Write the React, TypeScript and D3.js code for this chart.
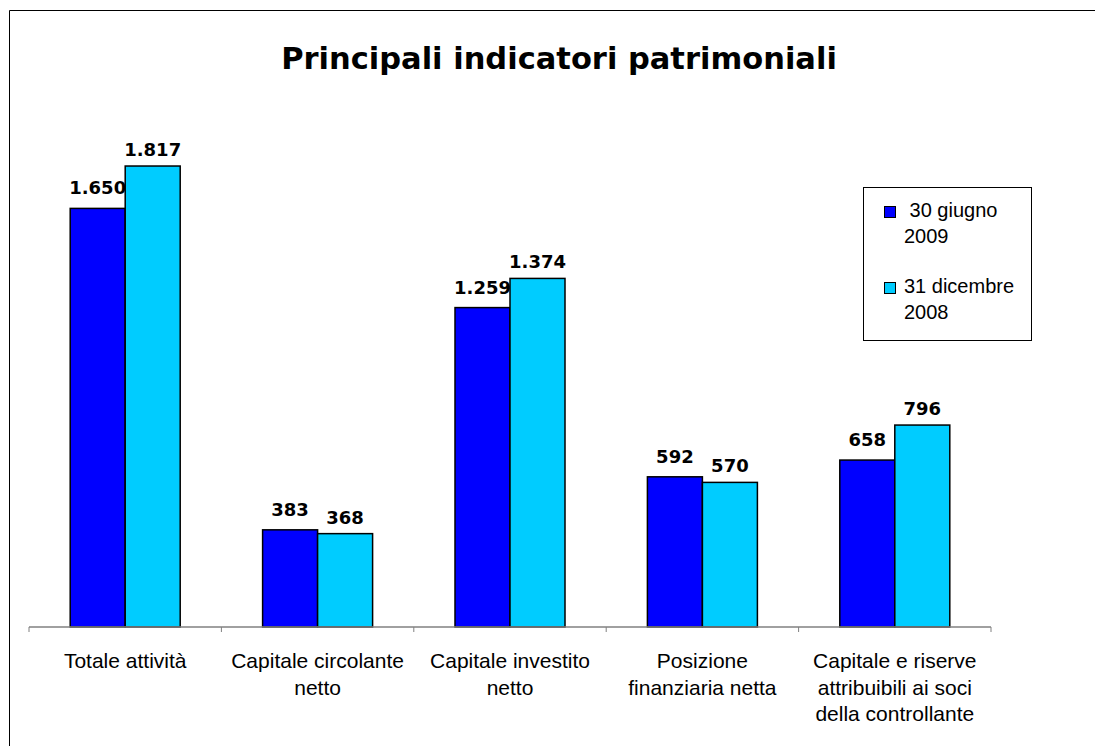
import * as d3 from "d3";

const categories = [
  ["Totale attività"],
  ["Capitale circolante", "netto"],
  ["Capitale investito", "netto"],
  ["Posizione", "finanziaria netta"],
  ["Capitale e riserve", "attribuibili ai soci", "della controllante"],
];
const seriesNames = ["30 giugno 2009", "31 dicembre 2008"];
const giugno2009 = [1650, 383, 1259, 592, 658];
const dicembre2008 = [1817, 368, 1374, 570, 796];
const valueLabels = [
  ["1.650", "383", "1.259", "592", "658"],
  ["1.817", "368", "1.374", "570", "796"],
];
const legendLines = [
  [" 30 giugno", "2009"],
  ["31 dicembre", "2008"],
];

const colors = ["#0000FF", "#00CCFF"];
const W = 1095;
const H = 746;

export default function App() {
  const series = [giugno2009, dicembre2008];
  const catIds = categories.map((_, i) => String(i));

  const x0 = d3.scaleBand<string>().domain(catIds).range([29, 991]).padding(0);
  const groupWidth = 110;
  const x1 = d3.scaleBand<string>().domain(["0", "1"]).range([0, groupWidth]).padding(0);
  const y = d3.scaleLinear().domain([0, 2000]).range([627, 119.6]);
  const baseY = y(0);
  const labelGap = [14, 10];

  const tickXs = d3.range(categories.length + 1).map((i) => 29 + i * x0.step());

  return (
    <svg
      width={W}
      height={H}
      viewBox={`0 0 ${W} ${H}`}
      style={{ position: "absolute", left: 0, top: 0, background: "#fff" }}
    >
      {/* chart frame: only top and left edges fall inside the picture */}
      <path d={`M9.5,${H} V10.5 H${W}`} fill="none" stroke="#000" strokeWidth={1} />

      <text
        x={559}
        y={69}
        textAnchor="middle"
        fontFamily="'DejaVu Sans', Verdana, sans-serif"
        fontWeight="bold"
        fontSize={30.5}
        fill="#000"
      >
        Principali indicatori patrimoniali
      </text>

      {series.map((values, si) =>
        values.map((v, ci) => {
          const bx = (x0(String(ci)) ?? 0) + (x0.bandwidth() - groupWidth) / 2 + (x1(String(si)) ?? 0);
          const by = y(v);
          return (
            <g key={`${si}-${ci}`}>
              <rect
                x={bx}
                y={by}
                width={x1.bandwidth()}
                height={baseY - by}
                fill={colors[si]}
                stroke="#000"
                strokeWidth={1.5}
              />
              <text
                x={bx + x1.bandwidth() / 2}
                y={by - labelGap[si]}
                textAnchor="middle"
                fontFamily="'DejaVu Sans', Verdana, sans-serif"
                fontWeight="bold"
                fontSize={18}
                fill="#000"
              >
                {valueLabels[si][ci]}
              </text>
            </g>
          );
        })
      )}

      <line x1={29} x2={991} y1={baseY} y2={baseY} stroke="#808080" strokeWidth={1.5} />
      {tickXs.map((tx, i) => (
        <line key={i} x1={tx} x2={tx} y1={baseY} y2={baseY + 5} stroke="#808080" strokeWidth={1} />
      ))}

      {categories.map((lines, ci) => {
        const cx = (x0(String(ci)) ?? 0) + x0.bandwidth() / 2;
        return (
          <text
            key={ci}
            x={cx}
            y={668}
            textAnchor="middle"
            fontFamily="'Liberation Sans', Arial, sans-serif"
            fontSize={21}
            fill="#000"
          >
            {lines.map((line, li) => (
              <tspan key={li} x={cx} dy={li === 0 ? 0 : 26.7}>
                {line}
              </tspan>
            ))}
          </text>
        );
      })}

      <g aria-label={seriesNames.join(", ")}>
        <rect x={863.5} y={187.5} width={168} height={153} fill="#fff" stroke="#000" strokeWidth={1} />
        {legendLines.map((lines, si) => {
          const top = si === 0 ? 206 : 282;
          return (
            <g key={si}>
              <rect x={884.5} y={top + 0.5} width={11} height={11} fill={colors[si]} stroke="#000" strokeWidth={1} />
              <text
                x={904}
                y={top + 11}
                fontFamily="'Liberation Sans', Arial, sans-serif"
                fontSize={20}
                fill="#000"
                style={{ whiteSpace: "pre" }}
              >
                {lines.map((line, li) => (
                  <tspan key={li} x={904} dy={li === 0 ? 0 : 25.5}>
                    {line}
                  </tspan>
                ))}
              </text>
            </g>
          );
        })}
      </g>
    </svg>
  );
}
